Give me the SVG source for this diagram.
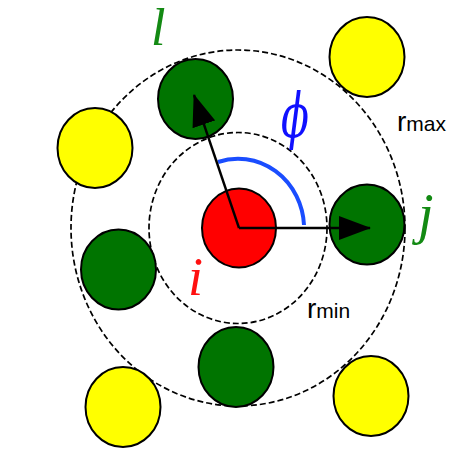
<svg xmlns="http://www.w3.org/2000/svg" width="452" height="453" viewBox="0 0 452 453">
<style>
.ring{fill:none;stroke:#000;stroke-width:1.7;stroke-dasharray:6 3}
.atom{stroke:#000;stroke-width:2}
.g{fill:#007400}
.y{fill:#ffff00}
.r{fill:#ff0000}
.math{font-family:"Liberation Serif","DejaVu Serif",serif;font-style:italic}
.lab{font-family:"Liberation Sans",Arial,sans-serif;fill:#000}
.arrow{stroke:#000;stroke-width:2.4;fill:none}
</style>
<defs>
<marker id="ah" viewBox="0 0 32 24" markerWidth="32" markerHeight="24" refX="31" refY="12" orient="auto" markerUnits="userSpaceOnUse">
<path d="M0,0 L32,12 L0,24 Z" fill="#000"/>
</marker>
</defs>
<rect width="452" height="453" fill="#fff"/>
<g id="rings">
<ellipse class="ring" cx="238" cy="228" rx="167" ry="178"/>
<ellipse class="ring" cx="238" cy="228" rx="89" ry="95.5"/>
</g>
<g id="atom-i"><ellipse class="atom r" cx="239" cy="228" rx="37" ry="39.5"/></g>
<g id="atom-l"><ellipse class="atom g" cx="195.5" cy="99" rx="37.5" ry="40"/></g>
<g id="atom-j"><ellipse class="atom g" cx="367" cy="224.5" rx="37.5" ry="40"/></g>
<g id="atom-green-left"><ellipse class="atom g" cx="118.5" cy="269.5" rx="37.5" ry="40"/></g>
<g id="atom-green-bottom"><ellipse class="atom g" cx="236" cy="367" rx="37.5" ry="40"/></g>
<g id="atom-yellow-tr"><ellipse class="atom y" cx="367" cy="57" rx="37.5" ry="40"/></g>
<g id="atom-yellow-l"><ellipse class="atom y" cx="95" cy="148" rx="37.5" ry="40"/></g>
<g id="atom-yellow-bl"><ellipse class="atom y" cx="123" cy="407" rx="37.5" ry="40"/></g>
<g id="atom-yellow-br"><ellipse class="atom y" cx="371" cy="396" rx="37.5" ry="40"/></g>
<g id="connectors">
<path d="M218,162 A66,70 0 0 1 304,225" fill="none" stroke="#1a4dff" stroke-width="4"/>
<line class="arrow" x1="239" y1="228" x2="194" y2="95" marker-end="url(#ah)"/>
<line class="arrow" x1="239" y1="228" x2="370" y2="228" marker-end="url(#ah)"/>
</g>
<g id="labels">
<text class="math" x="151" y="45" font-size="52" fill="#138a13">l</text>
<text class="math" x="418" y="233" font-size="56" fill="#138a13">j</text>
<text class="math" x="188" y="295" font-size="54" fill="#ff1010">i</text>
<text x="281" y="137" font-size="62" fill="#1010ff" font-family="DejaVu Serif,serif" font-style="italic" textLength="28" lengthAdjust="spacingAndGlyphs">ϕ</text>
<text class="lab" x="397" y="131"><tspan font-size="28">r</tspan><tspan font-size="21">max</tspan></text>
<text class="lab" x="307" y="318"><tspan font-size="28">r</tspan><tspan font-size="21">min</tspan></text>
</g>
</svg>
